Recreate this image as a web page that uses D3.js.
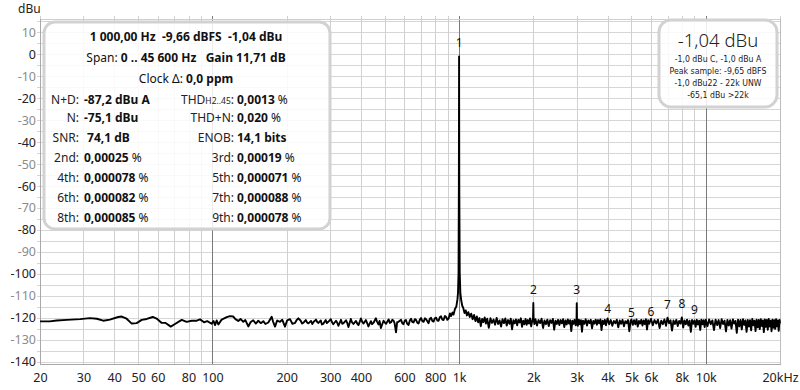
<!DOCTYPE html>
<html><head><meta charset="utf-8">
<script src="https://cdn.jsdelivr.net/npm/d3@7"></script>
<style>
html,body{margin:0;padding:0;background:#fff;}
svg{display:block;font-family:"Noto Sans","Open Sans",sans-serif;}
text{white-space:pre;}
</style></head><body>
<svg id="chart" width="800" height="390"></svg>
<script>
// ---------- DATA ----------
const xTickValues = [20,30,40,50,60,80,100,200,300,400,600,800,1000,2000,3000,4000,5000,6000,8000,10000,20000];
const xTickLabels = ["20","30","40","50","60","80","100","200","300","400","600","800","1k","2k","3k","4k","5k","6k","8k","10k","20kHz"];
const yTickValues = [10,0,-10,-20,-30,-40,-50,-60,-70,-80,-90,-100,-110,-120,-130,-140];

// spectrum trace [Hz, dBu]
const lowBand = [[20,-121.6],[21.9,-121.6],[23.4,-121.2],[25.7,-120.9],[29.1,-120.6],[31.9,-120.1],[34.0,-120.4],[36.1,-121.3],[38.4,-120.8],[41.5,-119.6],[42.9,-119.4],[44.9,-120.4],[47.1,-122.6],[49.3,-122.4],[51.7,-120.9],[54.2,-120.5],[57.3,-119.6],[59.4,-120.3],[62.3,-122.3],[64.6,-122.3],[67.8,-124.0],[70.5,-122.8],[75.1,-120.9],[78.6,-121.8],[82.4,-121.3],[86.4,-121.3],[89.1,-120.7],[92.5,-122.0],[95.3,-121.5],[99.3,-122.7],[101,-121.4],[102.5,-123.3],[104,-121.2],[105.7,-123.0],[109,-120.8],[114.3,-119.7],[117.8,-119.2],[121.5,-119.4],[124,-120.6],[127.3,-121.4],[130,-120.5],[133.4,-121.8],[136,-121.0],[139.8,-123.9],[143,-121.9],[146.4,-121.1],[150,-122.6],[153.5,-121.3],[157,-122.4],[160.8,-121.5],[164,-122.8],[168.5,-122.1],[173.9,-119.5],[176,-121.6],[179.4,-124.0],[183,-121.2],[187.9,-121.8],[192,-120.9],[196.9,-124.0],[201,-121.1],[206.3,-120.6],[211,-122.7],[216.2,-122.3],[219,-121.2],[223,-120.2]];
const midBand = [[228,-121.3],[231,-122.6],[234,-122.2],[239,-121.0],[242,-122.1],[245,-122.5],[251,-121.4],[254,-122.8],[257,-121.9],[263,-120.8],[266,-121.9],[269,-122.3],[275,-121.2],[278,-123.0],[282,-122.6],[288,-121.0],[291,-122.4],[295,-121.8],[302,-120.6],[305,-121.9],[309,-122.9],[317,-121.3],[320,-122.0],[324,-123.6],[332,-120.9],[336,-122.7],[340,-122.4],[348,-121.1],[352,-122.3],[356,-124.2],[364,-120.5],[368,-122.0],[373,-122.8],[382,-121.4],[386,-122.5],[391,-123.3],[400,-120.3],[405,-121.8],[410,-122.6],[419,-121.0],[424,-122.4],[429,-123.9],[439,-121.5],[444,-122.9],[450,-122.2],[460,-120.2],[465,-121.7],[471,-123.0],[476,-121.4],[482,-124.6],[494,-121.3],[500,-122.1],[506,-122.7],[518,-120.7],[524,-122.3],[530,-122.0],[536,-120.9],[542,-121.2],[548,-122.5],[555,-126.6],[561,-122.0],[568,-121.8],[582,-120.9],[588,-122.4],[595,-122.9],[602,-121.3],[609,-121.0],[616,-122.7],[624,-123.2],[632,-121.1],[639,-120.4],[646,-121.9],[654,-122.1],[662,-120.6],[669,-120.9],[677,-122.2],[685,-122.6],[693,-120.9],[701,-120.1],[710,-121.5],[718,-121.8],[727,-120.2],[735,-120.6],[744,-121.6],[752,-122.4],[761,-120.4],[770,-120.0],[779,-121.4],[788,-121.7],[797,-120.2],[807,-119.9],[816,-121.2],[826,-121.3],[836,-119.6],[845,-119.3],[855,-120.8],[865,-121.0],[876,-119.2],[886,-119.6],[896,-120.9],[907,-120.3]];
const peakBand = [[918,-118.0],[928,-119.2],[940,-117.6],[950,-118.5],[962,-116.0],[975,-114.8],[985,-111.5],[990,-108.6],[995,-99.5],[998,-60],[1000,-1.04],[1002,-60],[1006,-99.5],[1012,-108.6],[1020,-112.0],[1030,-114.5],[1040,-115.5],[1052,-117.8],[1064,-116.6],[1076,-118.9],[1090,-117.4],[1105,-119.6],[1120,-118.1],[1135,-120.6]];
const highBand = [[1150,-118.7],[1165,-121.5],[1180,-119.4],[1195,-122.0],[1210,-120.1],[1225,-123.8],[1240,-120.5],[1255,-121.9],[1270,-119.8],[1285,-122.6],[1300,-120.4],[1320,-124.5],[1340,-120.2],[1360,-122.3],[1380,-120.8],[1400,-123.1],[1420,-120.0],[1440,-122.8],[1460,-121.2],[1480,-124.0],[1500,-120.6],[1520,-122.4],[1540,-120.3],[1560,-123.5],[1580,-121.0],[1600,-122.7],[1620,-120.4],[1640,-125.2],[1660,-121.1],[1680,-122.5],[1700,-120.7],[1720,-123.4],[1740,-120.9],[1760,-122.1],[1780,-120.2],[1800,-124.1],[1820,-121.3],[1840,-122.9],[1860,-120.5],[1880,-123.2],[1900,-121.0],[1920,-122.6],[1940,-120.3],[1960,-123.9],[1980,-121.4],[1995,-120.0],[2000,-113.2],[2005,-120.5],[2020,-122.8],
[2040,-120.6],[2070,-123.5],[2100,-121.0],[2130,-122.4],[2160,-120.4],[2190,-124.6],[2220,-121.2],[2250,-122.9],[2280,-120.8],[2310,-123.7],[2340,-121.1],[2370,-122.3],[2400,-120.5],[2430,-125.4],[2460,-121.3],[2490,-122.8],[2520,-120.9],[2550,-123.3],[2580,-121.0],[2610,-122.5],[2640,-120.6],[2670,-124.2],[2700,-121.2],[2730,-123.0],[2760,-120.7],[2790,-122.6],[2820,-121.1],[2850,-126.0],[2880,-121.3],[2910,-122.7],[2940,-120.9],[2970,-123.4],[2993,-121.0],[3000,-113.3],[3007,-121.2],[3030,-123.6],[3060,-120.8],[3090,-122.9],[3120,-121.1],[3150,-126.3],
[3180,-121.3],[3220,-122.7],[3260,-120.6],[3300,-123.5],[3340,-121.2],[3380,-122.4],[3420,-120.9],[3460,-124.8],[3500,-121.4],[3540,-122.6],[3580,-120.8],[3620,-123.1],[3660,-121.0],[3700,-122.5],[3740,-120.7],[3780,-125.6],[3820,-121.3],[3860,-122.8],[3900,-120.9],[3940,-123.4],[3980,-121.2],[4000,-120.3],
[4060,-122.9],[4120,-121.0],[4180,-123.6],[4240,-121.4],[4300,-122.5],[4360,-120.8],[4420,-124.3],[4480,-121.2],[4540,-122.7],[4600,-120.9],[4660,-123.8],[4720,-121.5],[4780,-122.4],[4840,-121.0],[4900,-126.1],[4960,-121.3],[5000,-120.8],[5060,-123.2],[5120,-121.1],[5180,-122.9],[5240,-120.7],[5300,-124.0],[5360,-121.4],[5420,-122.6],[5480,-120.9],[5540,-123.5],[5600,-121.2],[5660,-122.8],[5720,-120.6],[5780,-125.3],[5840,-121.1],[5900,-122.7],[5960,-121.3],
[6000,-120.5],[6100,-123.4],[6200,-121.0],[6300,-122.6],[6400,-120.8],[6500,-124.6],[6600,-121.3],[6700,-122.9],[6800,-120.7],[6900,-123.6],[7000,-119.9],[7100,-122.5],[7200,-121.1],[7300,-125.8],[7400,-121.2],[7500,-122.8],[7600,-120.9],[7700,-123.7],[7800,-121.4],[7900,-122.6],[8000,-119.8],[8100,-124.4],[8200,-121.2],[8300,-122.9],[8400,-120.8],[8500,-123.5],[8600,-121.3],[8700,-126.4],[8800,-121.0],[8900,-122.7],[9000,-121.2],[9100,-124.1],[9200,-120.9],[9300,-123.0],[9400,-121.3],[9500,-125.5],[9600,-120.8],[9700,-122.9],[9800,-121.1],[9900,-124.2],
[10000,-120.9],[10160,-123.8],[10320,-120.7],[10480,-122.9],[10640,-121.2],[10800,-125.6],[10960,-120.8],[11120,-123.3],[11280,-121.0],[11440,-124.7],[11600,-120.6],[11760,-122.8],[11920,-121.3],[12080,-126.2],[12240,-120.9],[12400,-123.5],[12560,-121.1],[12720,-124.9],[12880,-120.7],[13040,-122.6],[13200,-121.4],[13360,-126.8],[13520,-120.8],[13680,-123.9],[13840,-121.0],[14000,-125.3],[14160,-120.6],[14320,-123.2],[14480,-121.2],[14640,-126.4],[14800,-120.9],[14960,-124.0],[15120,-121.1],[15280,-125.7],[15440,-120.5],[15600,-123.4],[15760,-121.3],[15920,-126.0],[16080,-120.8],[16240,-124.3],[16400,-121.0],[16560,-125.1],[16720,-120.6],[16880,-123.7],[17040,-121.2],[17200,-126.5],[17360,-120.7],[17520,-124.1],[17680,-121.0],[17840,-125.4],[18000,-120.5],[18160,-123.9],[18320,-121.3],[18480,-126.1],[18640,-120.8],[18800,-124.5],[18960,-121.1],[19120,-125.0],[19280,-120.6],[19440,-123.8],[19600,-121.2],[19760,-125.9],[19920,-120.9],[20000,-122.5]];

const harmonicFreqs = [1000,2000,3000,4000,5000,6000,7000,8000,9000];
const harmonicDb = [-1.04,-113.2,-113.3,-121.8,-123.5,-123.2,-120.0,-119.7,-122.3];
const harmonicLabels = ["1","2","3","4","5","6","7","8","9"];

// info panel text
const panelHeader = [
  [["1 000,00 Hz  -9,66 dBFS  -1,04 dBu",true]],
  [["Span: ",false],["0 .. 45 600 Hz   Gain 11,71 dB",true]],
  [["Clock \u0394: ",false],["0,0 ppm",true]]
];
const leftLabels  = ["N+D:","N:","SNR:","2nd:","4th:","6th:","8th:"];
const leftValues  = [["-87,2 dBu A",""],["-75,1 dBu",""],[" 74,1 dB",""],["0,00025"," %"],["0,000078"," %"],["0,000082"," %"],["0,000085"," %"]];
const rightLabels = ["THD|H2..45|:","THD+N:","ENOB:","3rd:","5th:","7th:","9th:"];
const rightValues = [["0,0013"," %"],["0,020"," %"],["14,1 bits",""],["0,00019"," %"],["0,000071"," %"],["0,000088"," %"],["0,000078"," %"]];
const levelMain = "-1,04 dBu";
const levelLines = ["-1,0 dBu C, -1,0 dBu A","Peak sample: -9,65 dBFS","-1,0 dBu22 - 22k UNW","-65,1 dBu >22k"];

// ---------- CHART ----------
const svg = d3.select("#chart");
const x = d3.scaleLog().domain([20,20000]).range([40,780]);
const y = d3.scaleLinear().domain([-141,16]).range([364,19]);

// grid
const hGrid = d3.range(-140, 16, 5);
const vGrid = [];
[10,100,1000,10000].forEach(dec => { for (let m=1;m<10;m++){ const f=dec*m; if (f>=20 && f<=20000) vGrid.push(f);} });
vGrid.push(20000);
const grid = svg.append("g");
grid.selectAll("line.h").data(hGrid).join("line")
  .attr("x1",37).attr("x2",780).attr("y1",d=>Math.round(y(d))+0.5).attr("y2",d=>Math.round(y(d))+0.5)
  .attr("stroke","#d6d6d6").attr("stroke-width",1);
grid.selectAll("line.v").data(vGrid).join("line")
  .attr("x1",d=>Math.round(x(d))+0.5).attr("x2",d=>Math.round(x(d))+0.5).attr("y1",16).attr("y2",364)
  .attr("stroke",d=>[100,1000,10000].includes(d)?"#7a7a7a":"#d0d0d0").attr("stroke-width",1);
// frame
svg.append("line").attr("x1",40).attr("x2",780).attr("y1",19.5).attr("y2",19.5).attr("stroke","#cfcfcf");
svg.append("line").attr("x1",780.5).attr("x2",780.5).attr("y1",19).attr("y2",364).attr("stroke","#bdbdbd");
svg.append("line").attr("x1",40.5).attr("x2",40.5).attr("y1",19).attr("y2",364).attr("stroke","#a8a8a8");
svg.append("line").attr("x1",40).attr("x2",781).attr("y1",364.5).attr("y2",364.5).attr("stroke","#a8a8a8");

// axes
const yAxis = svg.append("g").attr("transform","translate(40,0)")
  .call(d3.axisLeft(y).tickValues(yTickValues).tickSize(0).tickPadding(4).tickFormat(d=>d===0?"0":String(d)));
yAxis.select(".domain").remove();
yAxis.selectAll("text").attr("font-family","'Noto Sans',sans-serif").attr("font-size",12.5)
  .attr("fill",d=>(d%20===0)?"#222":"#8c8c8c");
const xAxis = svg.append("g").attr("transform","translate(0,364)")
  .call(d3.axisBottom(x).tickValues(xTickValues).tickSize(0).tickPadding(9).tickFormat((d,i)=>xTickLabels[i]));
xAxis.select(".domain").remove();
xAxis.selectAll("text").attr("font-family","'Noto Sans',sans-serif").attr("font-size",12.5).attr("fill","#222");

svg.append("text").attr("x",18).attr("y",13).attr("font-size",12).attr("fill","#222").text("dBu");

// trace
const trace = [].concat(lowBand, midBand, peakBand, highBand).sort((a,b)=>a[0]-b[0]);
svg.append("clipPath").attr("id","clip").append("rect").attr("x",40).attr("y",19).attr("width",741).attr("height",345);
svg.append("path").datum(trace).attr("clip-path","url(#clip)")
  .attr("fill","none").attr("stroke","#000").attr("stroke-width",1.9).attr("stroke-linejoin","round")
  .attr("d", d3.line().x(d=>x(d[0])).y(d=>y(d[1])));

// harmonic labels
svg.append("g").selectAll("text").data(harmonicFreqs).join("text")
  .attr("x",d=>x(d)).attr("y",(d,i)=>y(harmonicDb[i])-9)
  .attr("text-anchor","middle").attr("font-size",12).attr("fill","#111")
  .text((d,i)=>harmonicLabels[i]);

// left info panel
const lp = svg.append("g");
lp.append("rect").attr("x",44).attr("y",22).attr("width",286).attr("height",207).attr("rx",11)
  .attr("fill","#fff").attr("fill-opacity",0.86).attr("stroke","#d2d2d2").attr("stroke-width",3);
const rowY = [36,57,78,99,117,137,157,177,197,217];
panelHeader.forEach((parts,i)=>{
  const t = lp.append("text").attr("x",186).attr("y",rowY[i]+4.5).attr("text-anchor","middle").attr("font-size",12).attr("fill","#111");
  parts.forEach(p=>t.append("tspan").attr("font-weight",p[1]?"bold":"normal").text(p[0]));
});
leftLabels.forEach((lab,i)=>{
  const yy = rowY[i+3]+4.5;
  lp.append("text").attr("x",79).attr("y",yy).attr("text-anchor","end").attr("font-size",12).attr("fill","#222").text(lab);
  const t = lp.append("text").attr("x",84).attr("y",yy).attr("font-size",12).attr("fill","#111");
  t.append("tspan").attr("font-weight","bold").text(leftValues[i][0]);
  t.append("tspan").attr("font-weight","normal").text(leftValues[i][1]);
});
rightLabels.forEach((lab,i)=>{
  const yy = rowY[i+3]+4.5;
  const t0 = lp.append("text").attr("x",234).attr("y",yy).attr("text-anchor","end").attr("font-size",12).attr("fill","#222");
  lab.split("|").forEach((s,j)=>t0.append("tspan").attr("font-size",j===1?8.5:12).text(s));
  const t = lp.append("text").attr("x",237).attr("y",yy).attr("font-size",12).attr("fill","#111");
  t.append("tspan").attr("font-weight","bold").text(rightValues[i][0]);
  t.append("tspan").attr("font-weight","normal").text(rightValues[i][1]);
});

// right level panel
const rp = svg.append("g");
rp.append("rect").attr("x",659).attr("y",20).attr("width",118).attr("height",87).attr("rx",12)
  .attr("fill","#fff").attr("fill-opacity",0.86).attr("stroke","#d2d2d2").attr("stroke-width",3);
rp.append("text").attr("x",718).attr("y",46.5).attr("text-anchor","middle").attr("font-size",18.5)
  .attr("font-weight",300).attr("fill","#222").text(levelMain);
rp.selectAll("text.s").data(levelLines).join("text")
  .attr("x",718).attr("y",(d,i)=>62+i*12).attr("text-anchor","middle").attr("font-size",8.7)
  .attr("font-family","'DejaVu Sans Condensed','Liberation Sans Narrow','Noto Sans',sans-serif")
  .attr("fill","#222").text(d=>d);
</script>
</body></html>
